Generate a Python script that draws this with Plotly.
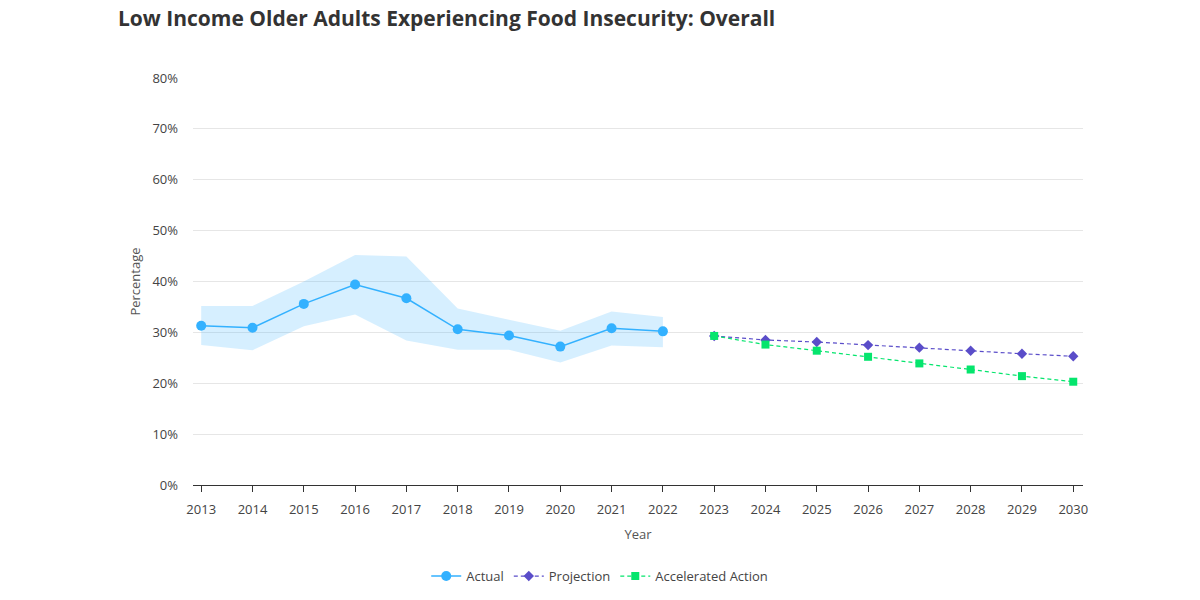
import plotly.graph_objects as go

years_actual = [2013, 2014, 2015, 2016, 2017, 2018, 2019, 2020, 2021, 2022]
actual = [31.3, 30.9, 35.6, 39.4, 36.7, 30.6, 29.4, 27.2, 30.8, 30.2]
actual_upper = [35.2, 35.2, 40.0, 45.2, 44.9, 34.7, 32.5, 30.3, 34.1, 33.0]
actual_lower = [27.5, 26.5, 31.2, 33.5, 28.4, 26.6, 26.6, 24.1, 27.4, 27.1]

years_proj = [2023, 2024, 2025, 2026, 2027, 2028, 2029, 2030]
projection = [29.3, 28.5, 28.1, 27.5, 27.0, 26.4, 25.8, 25.3]
accelerated = [29.3, 27.6, 26.4, 25.2, 23.9, 22.7, 21.4, 20.3]

all_years = list(range(2013, 2031))
y_ticks = [0, 10, 20, 30, 40, 50, 60, 70, 80]

FONT = "Open Sans"
c_actual = "#33b1ff"
c_proj = "#5a4dc9"
c_acc = "#05e56d"

fig = go.Figure()
fig.add_trace(go.Scatter(x=years_actual, y=actual_upper, mode="lines",
                         line=dict(width=0), hoverinfo="skip", showlegend=False))
fig.add_trace(go.Scatter(x=years_actual, y=actual_lower, mode="lines",
                         line=dict(width=0), fill="tonexty",
                         fillcolor="rgba(51,177,255,0.2)", hoverinfo="skip", showlegend=False))
fig.add_trace(go.Scatter(x=years_actual, y=actual, mode="lines+markers", name="Actual",
                         line=dict(color=c_actual, width=1.5),
                         marker=dict(color=c_actual, size=10, symbol="circle")))
fig.add_trace(go.Scatter(x=years_proj, y=projection, mode="lines+markers", name="Projection",
                         line=dict(color=c_proj, width=1.2, dash="4px,3px"),
                         marker=dict(color=c_proj, size=8, symbol="diamond")))
fig.add_trace(go.Scatter(x=years_proj, y=accelerated, mode="lines+markers", name="Accelerated Action",
                         line=dict(color=c_acc, width=1.2, dash="4px,3px"),
                         marker=dict(color=c_acc, size=8, symbol="square")))

fig.update_layout(
    width=1200, height=600,
    paper_bgcolor="white", plot_bgcolor="white",
    margin=dict(l=185, r=125, t=70, b=123),
    font=dict(family=FONT, color="#555", size=13),
    title=dict(text="<b>Low Income Older Adults Experiencing Food Insecurity: Overall</b>",
               x=110/1200, xanchor="left", y=1, yanchor="top", pad=dict(t=3),
               font=dict(family=FONT, size=21, color="#333")),
    legend=dict(orientation="h", x=0.457, xanchor="center",
                y=-0.187, yanchor="top", yref="paper", traceorder="normal",
                font=dict(size=13, color="#444")),
    showlegend=True,
)
fig.update_xaxes(
    range=[2012.84, 2030.19], tickvals=all_years, ticktext=[str(y) for y in all_years],
    showgrid=False, showline=True, linecolor="#333", linewidth=1,
    ticks="outside", ticklen=6, tickcolor="#333", zeroline=False, ticklabelstandoff=6,
    title=dict(text="Year", font=dict(size=13, color="#555"), standoff=13),
    tickfont=dict(size=13, color="#444"),
)
fig.update_yaxes(
    range=[0, 80], tickvals=y_ticks, ticktext=[f"{v}%" for v in y_ticks],
    showgrid=True, gridcolor="#e6e6e6", zeroline=False, showline=False,
    ticks="", ticklabelstandoff=14,
    title=dict(text="Percentage", font=dict(size=13, color="#555"), standoff=8),
    tickfont=dict(size=13, color="#444"),
)

fig.write_html("out.html")
